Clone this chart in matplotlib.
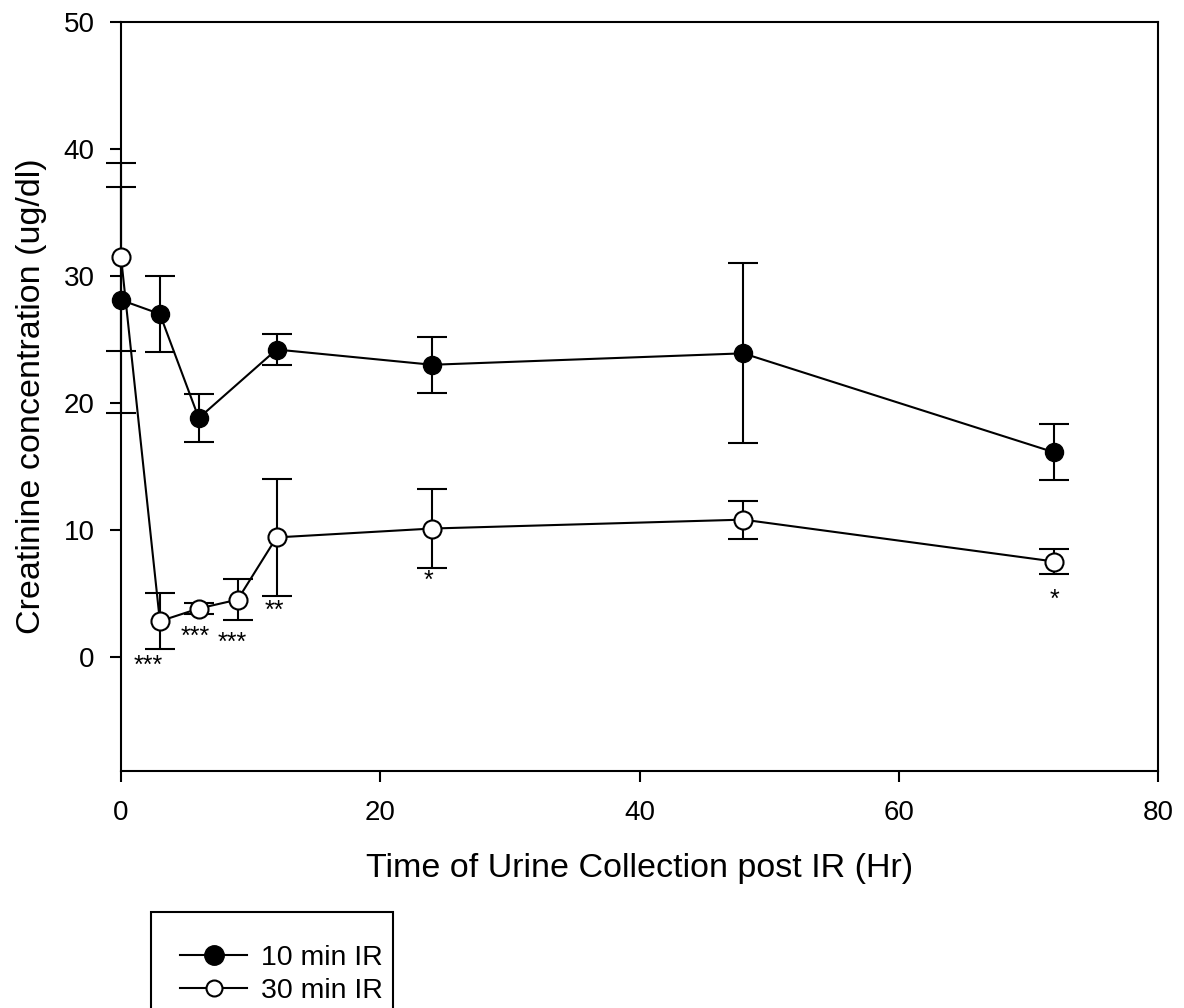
import numpy as np
import matplotlib.pyplot as plt
from matplotlib.patches import Rectangle

plt.rcParams['font.family'] = ['Liberation Sans', 'DejaVu Sans']

hours = [0, 3, 6, 12, 24, 48, 72]
ir10_mean = [28.1, 27.0, 18.8, 24.2, 23.0, 23.9, 16.1]
ir10_err = [8.9, 3.0, 1.9, 1.2, 2.2, 7.1, 2.2]

hours30 = [0, 3, 6, 9, 12, 24, 48, 72]
ir30_mean = [31.5, 2.8, 3.8, 4.5, 9.4, 10.1, 10.8, 7.5]
ir30_err = [7.4, 2.2, 0.4, 1.6, 4.6, 3.1, 1.5, 1.0]

# significance marks under the 30 min series
sig_x = [2.1, 5.7, 8.6, 11.8, 23.7, 72.0]
sig_y = [-0.7, 1.6, 1.1, 3.6, 6.0, 4.5]
sig_txt = ['***', '***', '***', '**', '*', '*']

fig = plt.figure(figsize=(11.84, 10.08), dpi=100)
ax = fig.add_axes([121/1184, 1-771/1008, (1158-121)/1184, (771-22)/1008])

c10 = ax.errorbar(hours, ir10_mean, yerr=ir10_err, color='black', lw=1.5,
                  marker='o', ms=13, mfc='black', mec='black', capsize=11,
                  capthick=1.5, elinewidth=1.5, label='10 min IR', zorder=3)
c30 = ax.errorbar(hours30, ir30_mean, yerr=ir30_err, color='black', lw=1.5,
                  marker='o', ms=13, mfc='white', mec='black', mew=1.5,
                  capsize=11, capthick=1.5, elinewidth=1.5, label='30 min IR',
                  zorder=4)
for cont in (c10, c30):
    for art in cont.get_children():
        art.set_clip_on(False)

for x, y, t in zip(sig_x, sig_y, sig_txt):
    ax.text(x, y, t, ha='center', va='center', fontsize=18)

ax.set_xlim(0, 80)
ax.set_ylim(-9, 50)
ax.set_xticks(np.arange(0, 81, 20))
ax.set_yticks(np.arange(0, 51, 10))
ax.tick_params(direction='out', length=8, width=1.5, labelsize=20,
               top=False, right=False)
ax.tick_params(axis='x', pad=13)
ax.tick_params(axis='y', pad=11)
for s in ax.spines.values():
    s.set_linewidth(1.5)

ax.set_xlabel('Time of Urine Collection post IR (Hr)', fontsize=24.5, labelpad=19)
ax.set_ylabel('Creatinine concentration (ug/dl)', fontsize=24.5, labelpad=12)

h, l = ax.get_legend_handles_labels()
h = [x[0] for x in h]
leg = fig.legend(h, l, loc='upper left', bbox_to_anchor=(166/1184, 1-931/1008),
                 frameon=False, fontsize=20.5, handlelength=2.35,
                 handletextpad=0.5, labelspacing=0.22, borderpad=0)
leg.legend_handles[0].set_markersize(14)
leg.legend_handles[1].set_markersize(11.5)
fig.patches.append(Rectangle((151/1184, -0.05), (393-151)/1184, 0.05+1-912/1008,
                             transform=fig.transFigure, fill=False, lw=1.5,
                             edgecolor='black'))

fig.savefig('out.png', dpi=100)
